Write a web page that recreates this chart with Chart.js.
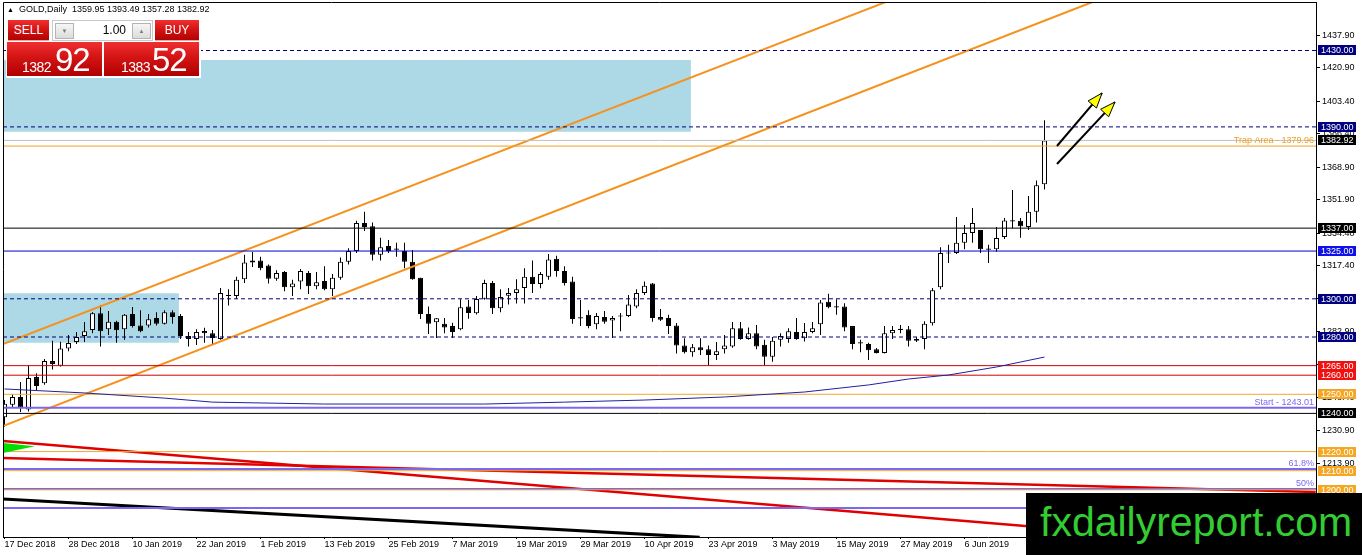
<!DOCTYPE html>
<html>
<head>
<meta charset="utf-8">
<title>GOLD, Daily</title>
<script src="https://cdn.jsdelivr.net/npm/chart.js@4.4.1/dist/chart.umd.min.js"></script>
<style>
  html, body { margin: 0; padding: 0; background: #fff; overflow: hidden; }
  #wrap { position: relative; width: 1362px; height: 555px; font-family: "Liberation Sans", Arial, sans-serif; }
  #chart { position: absolute; left: 0; top: 0; }
  #hdr { position: absolute; left: 7px; top: 5px; font-size: 9px; line-height: 9px; color: #000; white-space: pre; }
  #hdr .tri { font-size: 7px; }
  #panel { position: absolute; left: 6px; top: 19px; width: 195px; height: 59px; background: #fff; }
  .red { position: absolute; color: #fff; background: linear-gradient(to bottom, #f03030 0%, #d41414 45%, #b00000 100%); }
  .top { height: 21px; line-height: 21px; font-size: 12px; text-align: center; box-shadow: inset 0 -1px 0 #f7a0a0; }
  #sellTop { left: 2px; top: 1px; width: 41px; }
  #buyTop { left: 149px; top: 1px; width: 44px; }
  #sellBig { left: 1px; top: 23px; width: 95px; height: 34px; }
  #buyBig { left: 98px; top: 23px; width: 95px; height: 34px; }
  .small { position: absolute; font-size: 14px; line-height: 14px; letter-spacing: -0.5px; }
  .big { position: absolute; font-size: 33px; line-height: 33px; letter-spacing: -1px; }
  #spin { position: absolute; left: 46px; top: 1px; width: 99px; height: 19px; border: 1px solid #c8c8c8; background: #fff; }
  .btn { position: absolute; top: 2px; width: 17px; height: 14px; border: 1px solid #b4b4b4; background: linear-gradient(#f6f6f6, #dcdcdc); color: #7a7a7a; font-size: 6px; line-height: 14px; text-align: center; }
  #lot { position: absolute; right: 26px; top: 0; font-size: 12px; line-height: 19px; color: #000; }
  #mark { position: absolute; left: 1026px; top: 493px; width: 336px; height: 62px; background: #000; }
  #mark span { position: absolute; left: 14px; top: 9px; font-size: 41px; line-height: 41px; color: #33cc33; white-space: nowrap; }
</style>
</head>
<body>
<div id="wrap">
  <canvas id="chart" width="1362" height="555"></canvas>
  <div id="hdr"><span class="tri">▲</span>  GOLD,Daily  1359.95 1393.49 1357.28 1382.92</div>
  <div id="panel">
    <div id="sellTop" class="red top">SELL</div>
    <div id="spin">
      <div class="btn" style="left:2px">▼</div>
      <div id="lot">1.00</div>
      <div class="btn" style="left:79px">▲</div>
    </div>
    <div id="buyTop" class="red top">BUY</div>
    <div id="sellBig" class="red"><span class="small" style="left:15px;top:18px">1382</span><span class="big" style="left:48px;top:1px">92</span></div>
    <div id="buyBig" class="red"><span class="small" style="left:17px;top:18px">1383</span><span class="big" style="left:48px;top:1px">52</span></div>
  </div>
  <div id="mark"><span>fxdailyreport.com</span></div>
</div>
<script>
// daily bars, 17 Dec 2018 .. 20 Jun 2019 (bar index = position on the x axis)
const opens = [1238,1244.5,1248.6,1242,1259,1255.8,1267.4,1265,1274,1277.4,
  1280.5,1283.6,1292.5,1284,1288,1284,1292,1286,1286,1290,
  1287,1293,1291,1280.5,1279,1283.2,1282,1279,1301.5,1301.5,
  1310.3,1320,1320,1317.4,1310.5,1314,1306,1309,1313.5,1306.6,
  1309.3,1305,1311,1319.4,1325,1339.7,1338,1323,1327.7,1326,
  1325,1319.4,1311,1292,1287.7,1287,1285.7,1284,1296,1292.4,
  1300,1308.3,1295,1301.6,1303,1305.6,1311.6,1307.8,1311.6,1321,
  1314.6,1309,1290,1291.6,1286.7,1290.5,1288.6,1291,1291,1296,
  1303,1308,1290.5,1290,1286,1275.5,1272,1274.6,1273.6,1270.6,
  1273.6,1275,1284.6,1279,1282,1276,1269.6,1278.6,1279,1282.6,
  1279.4,1282.6,1286.7,1298.4,1296,1296,1285.7,1276.8,1276.3,1273.6,
  1271.6,1282,1284,1284,1278,1279,1287.2,1306,1324,1324,
  1329.3,1334.5,1336,1326,1326,1332.3,1340.8,1340.8,1337.6,1345.6,
  1359.95];
const highs = [1247,1250,1256.5,1265,1261,1268.5,1278,1277.5,1281,1282.6,
  1287.8,1293,1296.7,1293.6,1288.5,1292,1295.7,1294,1292,1293,
  1294,1294,1292,1282.6,1284,1284.8,1283.6,1305.6,1305,1311.5,
  1323,1324.5,1322,1318,1315,1314.5,1310,1315.6,1314.5,1314,
  1317,1313,1321.6,1326.5,1340.8,1345.6,1340,1332,1330.8,1329.3,
  1329.3,1325.6,1311,1296,1290,1290,1287.5,1299.7,1299.4,1301.5,
  1310,1309.3,1305,1305.6,1310.3,1316,1320,1314,1323.5,1322.6,
  1317,1311.6,1299.4,1294,1292.6,1293.6,1291,1292.6,1302,1305,
  1309,1308.3,1294.6,1291.6,1287.3,1279.4,1276.3,1279.4,1275.6,1277.4,
  1281,1287.8,1287.8,1285,1286.3,1278.5,1280,1282,1284.6,1290,
  1287.3,1287.8,1299.4,1302.6,1299.7,1297.7,1285.7,1278.5,1277,1274.2,
  1285.7,1285.7,1286.3,1285.7,1280,1288.2,1305.6,1327,1328.3,1342.8,
  1338.6,1347.5,1336,1328.3,1337.6,1342.3,1357,1342.3,1353.8,1362,
  1393.49];
const lows = [1233,1243,1240.7,1241,1252.3,1255,1263,1264.5,1272.6,1276.3,
  1277.4,1282,1275,1281,1277,1278.5,1285,1282.5,1285,1286,
  1286.5,1287,1279,1275,1275.8,1277,1276.3,1278.5,1296.5,1300,
  1308.3,1316.6,1315,1308,1309.5,1304,1301.5,1305,1302.5,1305,
  1304.5,1301.5,1310,1318,1324,1335.5,1320,1320,1324,1322,
  1316,1310,1289.4,1281.6,1279.5,1282,1279.5,1283.5,1289.6,1291.8,
  1299.5,1292,1293,1297,1297.6,1297.6,1303,1305.5,1310,1311.6,
  1307,1287,1285.7,1284.6,1284,1287,1279.5,1283,1290.5,1295,
  1302,1288,1288.4,1281.6,1271.3,1271.3,1269.6,1270.6,1265,1268,
  1271.3,1274.4,1278.5,1278.5,1273.6,1265,1267,1275,1277,1278.5,
  1277.7,1282,1281,1295,1291.6,1283,1273.6,1272,1268,1271.3,
  1271.3,1279,1282,1275,1277.4,1273.6,1286,1305,1318.8,1323.5,
  1326,1329.3,1324,1318.8,1324.6,1331.3,1337,1332,1336,1340,
  1357.28];
const closes = [1245,1248.6,1242.9,1258.6,1254.3,1267.4,1265.9,1274,1276.8,1280,
  1283,1292.5,1283,1288,1283.5,1291.6,1285.7,1283,1289.3,1287,
  1293,1290.5,1280.5,1279,1282.6,1282,1279.5,1303,1302,1310,
  1319,1319,1316,1310.5,1313.5,1306,1308,1314.5,1306.6,1308.7,
  1305,1311,1319.4,1325,1339.7,1337.6,1323,1327,1325,1326,
  1319.4,1310.3,1292,1287,1289.8,1285,1282.6,1295.6,1292.6,1299.9,
  1308.3,1295,1301,1303,1305,1311.6,1307.8,1313,1320.6,1314.6,
  1308.3,1289.4,1290,1285.7,1291,1288,1290,1291,1297,1303,
  1306.8,1290,1289,1285.7,1275.5,1272,1274.6,1273,1270.6,1272.6,
  1275.6,1284.6,1279,1282,1275,1269.6,1278,1280.5,1283,1279,
  1282.6,1284.6,1298,1295.6,1295.6,1285,1276.3,1277,1273,1271.6,
  1282,1283.6,1284,1278,1279,1287,1304.5,1324,1324,1329.3,
  1334.5,1339.7,1326,1326,1331.8,1341,1340.8,1338,1345.6,1359.5,
  1382.92];

// time axis labels, one every 8 bars
const dateLabels = ['17 Dec 2018','28 Dec 2018','10 Jan 2019','22 Jan 2019','1 Feb 2019','13 Feb 2019',
  '25 Feb 2019','7 Mar 2019','19 Mar 2019','29 Mar 2019','10 Apr 2019','23 Apr 2019','3 May 2019',
  '15 May 2019','27 May 2019','6 Jun 2019','18 Jun 2019'];
const labelStep = 8;
const yTickValues = [1437.9,1420.9,1403.4,1386.4,1368.9,1351.9,1334.4,1317.4,1299.9,1282.9,1265.4,1248.4,1230.9,1213.9,1196.4];

// moving average read at a few bars
const maBars = [0,10,20,26,40,60,70,80,90,100,108,113,118,124,130];
const maValues = [1252.8,1250.7,1248.0,1245.9,1244.9,1244.9,1245.9,1247.0,1248.6,1251.2,1254.9,1258.0,1260.1,1264.3,1269.5];

// horizontal levels
const dashedLevels = [1430, 1390, 1300, 1280];
const blackLevels = [1337, 1240];
const blueLevels = [1325];
const redLevels = [1265, 1260];
const orangeLevels = [1250, 1220, 1210, 1200];
const purpleLevels = [1243.01, 1210.9, 1200.4, 1190.5];
const trapLevel = 1379.96;
const bidLevel = 1382.92;

// trend lines: [bar, price] pairs
const channelUpper = [[-0.1875, 1276.3], [110.3, 1455.6]];
const channelLower = [[-0.1875, 1233.4], [136.0, 1455.4]];
const redSteep = [[-0.1875, 1225.55], [163.9, 1168.4]];
const redFlat = [[-0.1875, 1216.65], [163.9, 1198.85]];
const blackLine = [[-0.1875, 1195.2], [86.9, 1175.1]];
const greenTop = [[-0.1875, 1224.5], [3.8, 1222.8]];
const greenBottom = [[-0.1875, 1219.3], [3.8, 1222.8]];
const arrowOne = [[131.56, 1380.0], [137.19, 1407.7]];
const arrowTwo = [[131.56, 1370.6], [138.8, 1403.0]];

// zones: [first bar, last bar, top, bottom]
const zoneBig = [-0.1875, 85.8, 1425.0, 1387.5];
const zoneSmall = [-0.1875, 21.8, 1302.9, 1277.0];

// texts on the right end of lines
const captionTexts = ['Trap Area - 1379.96', 'Start - 1243.01', '61.8%', '50%'];
const captionValues = [1379.96, 1243.01, 1210.9, 1200.4];
const captionColors = ['#f0a020', '#7b68ee', '#7b68ee', '#7b68ee'];

// price boxes on the axis
const boxValues = [1430, 1390, 1382.92, 1337, 1325, 1300, 1280, 1265, 1260, 1250, 1240, 1220, 1210, 1200];
const boxColors = ['#000080','#000080','#000','#000','#1010e8','#000080','#000080','#f01010','#f01010','#f5a623','#000','#f5a623','#f5a623','#f5a623'];

const X_MIN = -0.1875, X_MAX = 163.9375;
const Y_MIN = 1175.29, Y_MAX = 1455.39;
const FONT = '"Liberation Sans", Arial, sans-serif';

function seg(points) {
    return points.map(p => ({ x: p[0], y: p[1] }));
}

function lineSet(data, color, width, extra) {
    return Object.assign({
        type: 'line', data, borderColor: color, borderWidth: width,
        pointRadius: 0, tension: 0, fill: false, clip: 0, order: 5
    }, extra || {});
}

function level(v, color, width, dash) {
    return lineSet([{ x: X_MIN, y: v }, { x: X_MAX, y: v }], color, width, { borderDash: dash || [] });
}

function zone(z) {
    return lineSet([{ x: z[0], y: z[2] }, { x: z[1], y: z[2] }], 'rgba(0,0,0,0)', 0,
        { fill: { value: z[3] }, backgroundColor: '#add8e6', order: 20 });
}

const bars = opens.map((_, i) => i);
// a doji still gets a hairline body
const bodies = bars.map(i => {
    const lo = Math.min(opens[i], closes[i]), hi = Math.max(opens[i], closes[i]);
    if (hi - lo < 0.6) {
        const m = (hi + lo) / 2;
        return { x: i, y: [m - 0.3, m + 0.3] };
    }
    return { x: i, y: [lo, hi] };
});
const bodyColors = bars.map(i => (closes[i] - opens[i] >= 0.6 ? '#fff' : '#000'));

const datasets = [
    zone(zoneBig),
    zone(zoneSmall),
    {
        type: 'bar', data: bars.map(i => ({ x: i, y: [lows[i], highs[i]] })),
        backgroundColor: '#000', borderWidth: 0, barThickness: 1, grouped: false,
        inflateAmount: 0, order: 15
    },
    {
        type: 'bar', data: bodies, backgroundColor: bodyColors, borderColor: '#000',
        borderWidth: 1, borderSkipped: false, barThickness: 5, grouped: false,
        inflateAmount: 0, order: 14
    },
    lineSet(maBars.map((b, k) => ({ x: b, y: maValues[k] })), '#2020a0', 1),
    lineSet(seg(greenTop), 'rgba(0,0,0,0)', 0, { fill: '+1', backgroundColor: '#00e000' }),
    lineSet(seg(greenBottom), 'rgba(0,0,0,0)', 0)
];

dashedLevels.forEach(v => datasets.push(level(v, '#000080', 1, [4, 3])));
blackLevels.forEach(v => datasets.push(level(v, '#000', 1)));
blueLevels.forEach(v => datasets.push(level(v, '#0000cd', 1)));
redLevels.forEach(v => datasets.push(level(v, '#d00000', 1)));
orangeLevels.forEach(v => datasets.push(level(v, '#f0a830', 1)));
purpleLevels.forEach(v => datasets.push(level(v, '#7b68ee', 2)));
datasets.push(level(bidLevel, '#c0c0c0', 1));
datasets.push(level(trapLevel, '#f0a020', 1));

datasets.push(lineSet(seg(channelUpper), '#f5921e', 2));
datasets.push(lineSet(seg(channelLower), '#f5921e', 2));
datasets.push(lineSet(seg(redSteep), '#e00000', 2.5));
datasets.push(lineSet(seg(redFlat), '#e00000', 2.5));
datasets.push(lineSet(seg(blackLine), '#000', 3));
datasets.push(lineSet(seg(arrowOne), '#000', 2, { isArrow: true, order: 1 }));
datasets.push(lineSet(seg(arrowTwo), '#000', 2, { isArrow: true, order: 1 }));

// frame, captions, arrow heads and axis price boxes
const overlayPlugin = {
    id: 'overlay',
    afterDatasetsDraw(chart) {
        const { ctx, chartArea: a } = chart;
        const y = chart.scales.y;
        ctx.save();
        ctx.strokeStyle = '#000';
        ctx.lineWidth = 1;
        ctx.beginPath();
        ctx.moveTo(a.left + 0.5, a.bottom);
        ctx.lineTo(a.left + 0.5, a.top + 0.5);
        ctx.lineTo(a.right, a.top + 0.5);
        ctx.stroke();

        ctx.font = '9px ' + FONT;
        ctx.textAlign = 'right';
        ctx.textBaseline = 'bottom';
        captionTexts.forEach((t, k) => {
            ctx.fillStyle = captionColors[k];
            ctx.fillText(t, a.right - 2, y.getPixelForValue(captionValues[k]) - 1);
        });

        chart.data.datasets.forEach((ds, i) => {
            if (!ds.isArrow) return;
            const pts = chart.getDatasetMeta(i).data;
            const p0 = pts[0], p1 = pts[pts.length - 1];
            const ang = Math.atan2(p1.y - p0.y, p1.x - p0.x);
            const len = 15, half = 5.5;
            const bx = p1.x - len * Math.cos(ang), by = p1.y - len * Math.sin(ang);
            ctx.beginPath();
            ctx.moveTo(p1.x, p1.y);
            ctx.lineTo(bx - half * Math.sin(ang), by + half * Math.cos(ang));
            ctx.lineTo(bx + half * Math.sin(ang), by - half * Math.cos(ang));
            ctx.closePath();
            ctx.fillStyle = '#ffff00';
            ctx.fill();
            ctx.strokeStyle = '#000';
            ctx.lineWidth = 1;
            ctx.stroke();
        });
        ctx.restore();
    },
    afterDraw(chart) {
        const { ctx, chartArea: a } = chart;
        const y = chart.scales.y;
        ctx.save();
        ctx.font = '9px ' + FONT;
        ctx.textAlign = 'left';
        ctx.textBaseline = 'middle';
        boxValues.forEach((v, k) => {
            const py = Math.round(y.getPixelForValue(v));
            ctx.fillStyle = boxColors[k];
            ctx.fillRect(a.right + 2, py - 5, 38, 10);
            ctx.fillStyle = '#fff';
            ctx.fillText(v.toFixed(2), a.right + 5, py + 0.5);
        });
        ctx.restore();
    }
};

new Chart(document.getElementById('chart'), {
    type: 'bar',
    data: { datasets },
    options: {
        responsive: false,
        animation: false,
        devicePixelRatio: 1,
        events: [],
        layout: { autoPadding: false, padding: { left: 3, top: 2, right: 0, bottom: 0 } },
        plugins: { legend: { display: false }, tooltip: { enabled: false } },
        scales: {
            x: {
                type: 'linear', min: X_MIN, max: X_MAX, offset: false,
                grid: { drawOnChartArea: false, drawTicks: true, tickLength: 2, color: '#000', offset: false },
                border: { display: true, color: '#000', width: 1 },
                afterBuildTicks: s => { s.ticks = dateLabels.map((_, k) => ({ value: k * labelStep })); },
                afterFit: s => { s.height = 18; s.paddingLeft = 0; s.paddingRight = 0; },
                ticks: {
                    autoSkip: false, maxRotation: 0, minRotation: 0, align: 'start', padding: 0,
                    color: '#000', font: { family: FONT, size: 9 },
                    callback: v => dateLabels[Math.round(v / labelStep)]
                }
            },
            y: {
                type: 'linear', position: 'right', min: Y_MIN, max: Y_MAX,
                grid: { drawOnChartArea: false, drawTicks: true, tickLength: 4, color: '#000' },
                border: { display: true, color: '#000', width: 1 },
                afterBuildTicks: s => { s.ticks = yTickValues.map(v => ({ value: v })); },
                afterFit: s => { s.width = 46; s.paddingTop = 0; s.paddingBottom = 0; },
                ticks: {
                    padding: 2, color: '#000', font: { family: FONT, size: 9 },
                    callback: v => v.toFixed(2)
                }
            }
        }
    },
    plugins: [overlayPlugin]
});
</script>
</body>
</html>
